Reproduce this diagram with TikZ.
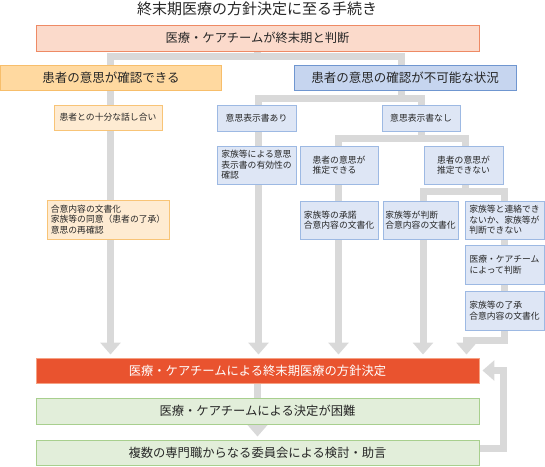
\documentclass[tikz,border=0pt]{standalone}
\usepackage{fontspec}
\setmainfont{Noto Sans CJK JP}
\usetikzlibrary{arrows.meta, backgrounds}
\definecolor{linegray}{HTML}{D9D9D9}
\definecolor{judgefill}{HTML}{FBDACB}
\definecolor{judgeline}{HTML}{EE8A65}
\definecolor{ablefill}{HTML}{FFD9A0}
\definecolor{ableline}{HTML}{F7BE6B}
\definecolor{palefill}{HTML}{FEEBD2}
\definecolor{paleline}{HTML}{F8C477}
\definecolor{bluefill}{HTML}{C6D5EF}
\definecolor{blueline}{HTML}{6F96D0}
\definecolor{lbluefill}{HTML}{DEE6F5}
\definecolor{lblueline}{HTML}{9DB9E3}
\definecolor{decidefill}{HTML}{E9532F}
\definecolor{decideline}{HTML}{F5A183}
\definecolor{greenfill}{HTML}{E2EEDA}
\definecolor{greenline}{HTML}{A8CF8E}
\begin{document}
\begin{tikzpicture}[x=1pt,y=-1pt]
        \tikzset{box/.style = {draw,line width=0.9pt,inner sep=0pt,text=black!85}}
        \tikzset{big/.style = {box,font=\fontsize{12.3}{14}\selectfont}}
        \tikzset{small/.style = {box,align=left,font=\fontsize{8.8}{10.4}\selectfont}}
        \tikzset{pipe/.style = {draw=linegray,line width=7pt}}
        \tikzset{band/.style = {pipe,line cap=rect,line join=miter}}
        \tikzset{flowarrow/.style = {pipe,line join=miter,-{Triangle[width=20pt,length=12pt]},shorten >=3pt}}
        \useasboundingbox (0,0) rectangle (545,466);

        \node[font=\fontsize{15}{17}\selectfont,text=black!85] (title) at (257,9) {終末期医療の方針決定に至る手続き};
        \node[big,fill=judgefill,draw=judgeline,minimum width=443,minimum height=26] (judge) at (257.5,38) {医療・ケアチームが終末期と判断};
        \node[big,font=\fontsize{12.5}{14}\selectfont,fill=ablefill,draw=ableline,minimum width=221,minimum height=25] (able) at (111,77.5) {患者の意思が確認できる};
        \node[big,font=\fontsize{12.5}{14}\selectfont,fill=bluefill,draw=blueline,minimum width=222,minimum height=25] (unable) at (405,77.5) {患者の意思の確認が不可能な状況};

        \node[small,fill=palefill,draw=paleline,minimum width=108,minimum height=25] (talk) at (108,117.5) {患者との十分な話し合い};
        \node[small,fill=palefill,draw=paleline,minimum width=122,minimum height=39] (agree) at (108,219.5) {合意内容の文書化\\家族等の同意（患者の了承）\\意思の再確認};

        \node[small,fill=lbluefill,draw=lblueline,minimum width=79,minimum height=26] (docyes) at (256.5,118) {意思表示書あり};
        \node[small,fill=lbluefill,draw=lblueline,minimum width=78,minimum height=26] (docno) at (421,118) {意思表示書なし};
        \node[small,fill=lbluefill,draw=lblueline,minimum width=79,minimum height=38] (check) at (256.5,165) {家族等による意思\\表示書の有効性の\\確認};
        \node[small,fill=lbluefill,draw=lblueline,minimum width=78,minimum height=38] (est) at (339,165) {患者の意思が\\推定できる};
        \node[small,fill=lbluefill,draw=lblueline,minimum width=79,minimum height=38] (noest) at (463.5,165) {患者の意思が\\推定できない};
        \node[small,fill=lbluefill,draw=lblueline,minimum width=78,minimum height=38] (consent) at (339,220) {家族等の承諾\\合意内容の文書化};
        \node[small,fill=lbluefill,draw=lblueline,minimum width=75,minimum height=38] (famjudge) at (420.5,220) {家族等が判断\\合意内容の文書化};
        \node[small,fill=lbluefill,draw=lblueline,minimum width=79,minimum height=38] (nocontact) at (504.5,220) {家族等と連絡でき\\ないか、家族等が\\判断できない};
        \node[small,fill=lbluefill,draw=lblueline,minimum width=79,minimum height=39] (teamjudge) at (504.5,264.5) {医療・ケアチーム\\によって判断};
        \node[small,fill=lbluefill,draw=lblueline,minimum width=79,minimum height=39] (famok) at (504.5,310.5) {家族等の了承\\合意内容の文書化};

        \node[big,fill=decidefill,draw=decideline,text=white,minimum width=443,minimum height=25] (decide) at (257.5,370.5) {医療・ケアチームによる終末期医療の方針決定};
        \node[big,fill=greenfill,draw=greenline,minimum width=443,minimum height=26] (hard) at (257.5,411) {医療・ケアチームによる決定が困難};
        \node[big,fill=greenfill,draw=greenline,minimum width=443,minimum height=25] (council) at (257.5,452.5) {複数の専門職からなる委員会による検討・助言};

        \coordinate (b1l) at (110.5,56.5);
        \coordinate (b1r) at (401.5,56.5);
        \coordinate (b2l) at (258.5,98.5);
        \coordinate (b2r) at (421.5,98.5);
        \coordinate (b3l) at (338.5,138.5);
        \coordinate (b3r) at (465,138.5);
        \coordinate (b4l) at (423,191.5);
        \coordinate (b4r) at (504,191.5);
        \coordinate (b5r) at (504,340);
        \coordinate (b5l) at (466.5,340);
        \coordinate (ret) at (503.5,410);

        \begin{scope}[on background layer]
        \draw[pipe] (judge.south) -- (judge.south |- b1l);
        \draw[band] (b1l) -- (b1r);
        \draw[flowarrow] (b1l) -- (b1l |- decide.north);
        \draw[pipe] (b1r) -- (b1r |- b2l);
        \draw[band] (b2l) -- (b2r);
        \draw[flowarrow] (b2l) -- (b2l |- decide.north);
        \draw[pipe] (b2r) -- (b2r |- b3l);
        \draw[band] (b3l) -- (b3r);
        \draw[flowarrow] (b3l) -- (b3l |- decide.north);
        \draw[pipe] (b3r) -- (b3r |- b4l);
        \draw[band] (b4l) -- (b4r);
        \draw[flowarrow] (b4l) -- (b4l |- decide.north);
        \draw[band] (b4r) -- (b5r) -- (b5l);
        \draw[flowarrow] (b5l) -- (b5l |- decide.north);

        \draw[pipe] (decide.south) -- (hard.north);
        \draw[flowarrow] (hard.south) -- (council.north);
        \draw[flowarrow] ([yshift=4pt]council.east) -| (ret) |- (decide.east);
        \end{scope}
      \end{tikzpicture}
\end{document}
